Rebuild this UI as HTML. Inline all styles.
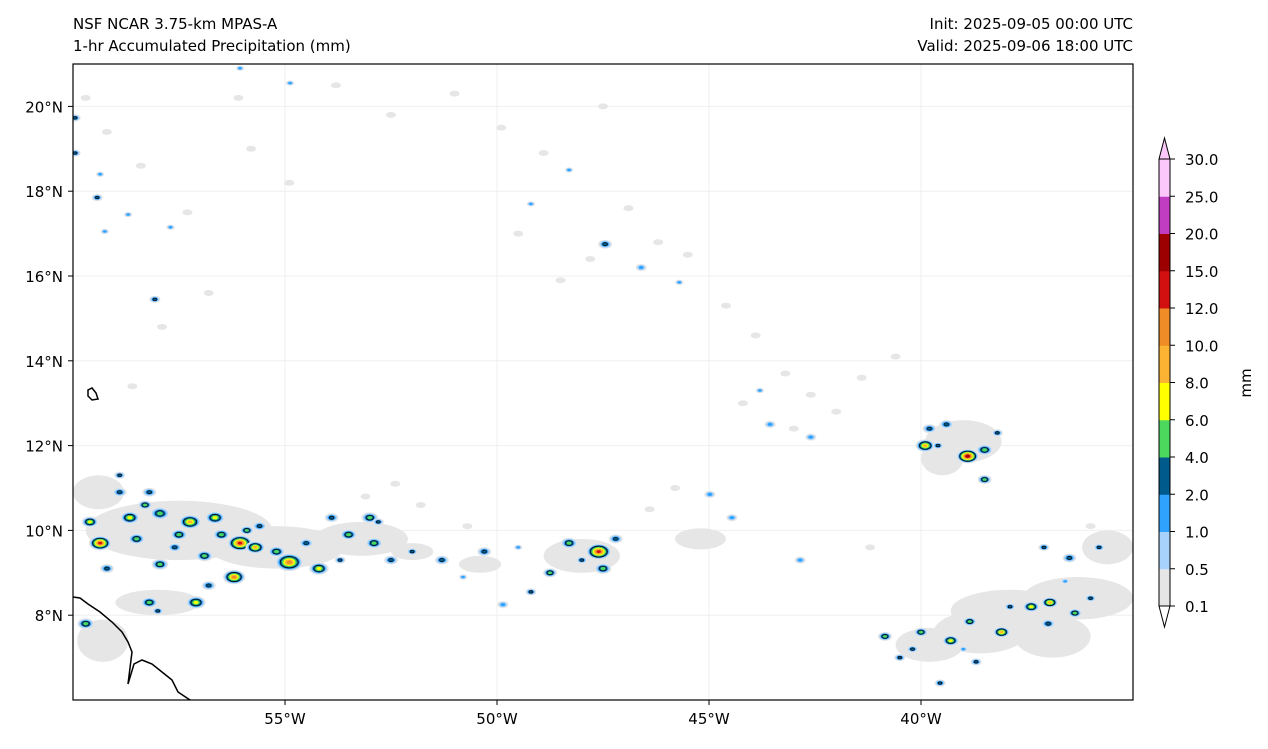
<!DOCTYPE html>
<html><head><meta charset="utf-8"><style>
body{margin:0;background:#fff;font-family:"DejaVu Sans",sans-serif;}
svg text{font-family:"DejaVu Sans",sans-serif;fill:#000;}
</style></head><body>
<svg id="chart" width="1268" height="745" xmlns="http://www.w3.org/2000/svg">
<text x="73" y="29" font-size="15">NSF NCAR 3.75-km MPAS-A</text>
<text x="73" y="51" font-size="15">1-hr Accumulated Precipitation (mm)</text>
<text x="1133" y="29" font-size="15" text-anchor="end">Init: 2025-09-05 00:00 UTC</text>
<text x="1133" y="51" font-size="15" text-anchor="end">Valid: 2025-09-06 18:00 UTC</text>
<defs><clipPath id="mapclip"><rect x="73" y="64" width="1060" height="636"/></clipPath></defs>
<g id="grid"></g>
<g id="marks" clip-path="url(#mapclip)"></g>
<g clip-path="url(#mapclip)">
<path d="M73,597 L80,598 L88,604 L100,612 L112,622 L122,632 L128,642 L132,652 L130,668 L128,684 L134,664 L142,660 L152,664 L162,672 L172,680 L178,692 L190,700 L205,705" fill="none" stroke="#000" stroke-width="1.5"/>
<path d="M88,390 L92,388 L96,393 L98,399 L92,400 L88,396 Z" fill="none" stroke="#000" stroke-width="1.5"/>
</g>
<rect x="73" y="64" width="1060" height="636" fill="none" stroke="#000" stroke-width="1.2"/>
<g id="xaxis"></g>
<g id="yaxis"></g>
<g id="cbar"></g>
<text transform="translate(1251,383) rotate(-90)" font-size="15" text-anchor="middle">mm</text>
</svg>
<script>
const levels=[0.1,0.5,1.0,2.0,4.0,6.0,8.0,10.0,12.0,15.0,20.0,25.0,30.0];
const colors=["#e6e6e6","#a6d2fc","#2ea2fc","#005a8c","#4cd85c","#ffff00","#fcb232","#f08c28","#d21010","#9c0000","#c03cc0","#fcc8fc"];
const lonTicks=[-55,-50,-45,-40];
const latTicks=[8,10,12,14,16,18,20];
const cellLon=[-59.36,-58.66,-57.95,-57.24,-56.65,-56.06,-55.7,-54.9,-54.2,-53.5,-52.9,-56.2,-57.95,-57.1,-58.2,-59.7,-58.9,-58.2,-53.9,-51.3,-50.3,-48.75,-48.3,-47.6,-47.5,-49.2,-49.86,-44.98,-44.46,-42.85,-47.45,-46.6,-42.6,-43.56,-39.8,-39.9,-38.9,-38.5,-38.5,-39.4,-40.85,-40.0,-39.3,-38.85,-38.1,-37.4,-36.96,-36.37,-36.5,-37.1,-40.5,-39.55,-38.7,-35.8,-37.9,-59.43,-58.7,-58.07,-57.7,-59.95,-59.95,-54.88,-56.06,-59.36,-59.25,-49.2,-48.3,-45.7,-43.8,-59.6,-58.5,-57.5,-56.9,-55.2,-53.0,-52.5,-58.9,-55.6,-52.0,-58.3,-57.6,-56.5,-55.9,-54.5,-53.7,-52.8,-59.2,-58.0,-56.8,-48.0,-47.2,-39.6,-38.2,-37.0,-36.0,-40.2,-39.0,-36.6,-50.8,-49.5];
const cellLat=[9.7,10.3,10.4,10.2,10.3,9.7,9.6,9.25,9.1,9.9,9.7,8.9,9.2,8.3,8.3,7.8,10.9,10.9,10.3,9.3,9.5,9.0,9.7,9.5,9.1,8.55,8.25,10.85,10.3,9.3,16.75,16.2,12.2,12.5,12.4,12.0,11.75,11.9,11.2,12.5,7.5,7.6,7.4,7.85,7.6,8.2,8.3,8.05,9.35,9.6,7.0,6.4,6.9,9.6,8.2,17.85,17.45,15.45,17.15,19.73,18.9,20.55,20.9,18.4,17.05,17.7,18.5,15.85,13.3,10.2,9.8,9.9,9.4,9.5,10.3,9.3,11.3,10.1,9.5,10.6,9.6,9.9,10.0,9.7,9.3,10.2,9.1,8.1,8.7,9.3,9.8,12.0,12.3,7.8,8.4,7.2,7.2,8.8,8.9,9.6];
const cellVal=[15,8,6,10,8,15,10,12,8,6,5,12,6,8,5,6,3,3,4,3,4,5,6,15,6,3,2,2,2,2,2.5,1.5,2,1.5,4,10,20,6,5,4,6,5,8,6,10,8,10,6,4,3,4,3,4,3,4,3,2,3,2,3,3,2,1.5,1.5,1.5,1.5,1.5,1.5,1.5,8,6,5,6,5,5,4,3,4,3,5,4,6,5,4,3,3,4,3,4,3,4,3,3,4,3,3,2,2,2,2];
const cellSize=[8,7,7,8,7,9,7,10,7,6,6,8,6,7,6,6,5,5,5,5,5,5,6,9,6,4,4,4,4,4,5,4,4,4,5,7,8,6,5,5,5,5,6,5,6,6,6,5,5,4,4,4,4,4,4,4,3,4,3,4,4,3,3,3,3,3,3,3,3,6,6,6,6,6,6,5,4,5,4,5,5,6,5,5,4,4,5,4,5,4,5,4,4,5,4,4,3,3,3,3];
const grayLon=[-57.5,-55.2,-53.2,-59.4,-37.9,-36.3,-35.6,-39.0,-39.5,-48.0,-45.2,-59.3,-50.4,-52.0,-58.0,-39.8,-38.6,-36.9];
const grayLat=[10.0,9.6,9.8,10.9,8.1,8.4,9.6,12.1,11.7,9.4,9.8,7.4,9.2,9.5,8.3,7.3,7.6,7.5];
const grayRx=[2.2,1.6,1.1,0.6,1.4,1.3,0.6,0.9,0.5,0.9,0.6,0.6,0.5,0.5,1.0,0.8,1.1,0.9];
const grayRy=[0.7,0.5,0.4,0.4,0.5,0.5,0.4,0.5,0.4,0.4,0.25,0.5,0.2,0.2,0.3,0.4,0.5,0.5];
// scattered light-precip flecks
const fleckLon=[-59.7,-59.2,-58.4,-57.3,-56.1,-55.8,-54.9,-53.8,-52.5,-51.0,-49.9,-48.9,-47.5,-46.9,-46.2,-45.5,-44.6,-43.9,-43.2,-42.6,-42.0,-41.4,-40.6,-47.8,-48.5,-49.5,-44.2,-43.0,-45.8,-46.4,-50.7,-51.8,-52.4,-57.9,-56.8,-58.6,-53.1,-41.2,-36.0,-35.4];
const fleckLat=[20.2,19.4,18.6,17.5,20.2,19.0,18.2,20.5,19.8,20.3,19.5,18.9,20.0,17.6,16.8,16.5,15.3,14.6,13.7,13.2,12.8,13.6,14.1,16.4,15.9,17.0,13.0,12.4,11.0,10.5,10.1,10.6,11.1,14.8,15.6,13.4,10.8,9.6,10.1,9.9];
const NS="http://www.w3.org/2000/svg";
const X0=73,X1=1133,Y0=64,Y1=700,LON0=-60,LON1=-35,LAT0=6,LAT1=21;
const xs=lon=>X0+(lon-LON0)/(LON1-LON0)*(X1-X0);
const ys=lat=>Y1-(lat-LAT0)/(LAT1-LAT0)*(Y1-Y0);
const pxDegX=(X1-X0)/(LON1-LON0),pxDegY=(Y1-Y0)/(LAT1-LAT0);
function mk(tag,attrs,parent){const e=document.createElementNS(NS,tag);for(const k in attrs)e.setAttribute(k,attrs[k]);parent.appendChild(e);return e;}
const grid=document.getElementById('grid'),marks=document.getElementById('marks');
const xa=document.getElementById('xaxis'),ya=document.getElementById('yaxis'),cb=document.getElementById('cbar');
lonTicks.forEach(l=>{const x=xs(l);
 const g=mk('line',{x1:x,x2:x,y1:Y0,y2:Y1,stroke:'#efefef','stroke-width':1},grid);
 
 const t=mk('line',{x1:x,x2:x,y1:Y1,y2:Y1+5,stroke:'#000'},xa);
 
 const tx=mk('text',{x:x,y:Y1+24,'font-size':15,'text-anchor':'middle'},xa);tx.textContent=Math.abs(l)+'°W';
 });
latTicks.forEach(l=>{const y=ys(l);
 const g=mk('line',{x1:X0,x2:X1,y1:y,y2:y,stroke:'#efefef','stroke-width':1},grid);
 
 const t=mk('line',{x1:X0-5,x2:X0,y1:y,y2:y,stroke:'#000'},ya);
 
 const tx=mk('text',{x:X0-10,y:y+6,'font-size':15,'text-anchor':'end'},ya);tx.textContent=l+'°N';
 });
grayLon.forEach((lo,i)=>{
 const e=mk('ellipse',{cx:xs(lo),cy:ys(grayLat[i]),rx:grayRx[i]*pxDegX,ry:grayRy[i]*pxDegY,fill:colors[0]},marks);
 });
fleckLon.forEach((lo,i)=>{
 const e=mk('ellipse',{cx:xs(lo),cy:ys(fleckLat[i]),rx:5,ry:3,fill:colors[0]},marks);
 });
cellLon.forEach((lo,i)=>{
 const v=cellVal[i];let n=0;while(n<levels.length-1&&v>levels[n])n++;
 const cx=xs(lo),cy=ys(cellLat[i]),r=cellSize[i];
 for(let k=0;k<n;k++){const f=1-k/(n+0.6);
  const e=mk('ellipse',{cx:cx,cy:cy,rx:r*1.4*f,ry:r*0.9*f,fill:colors[k]},marks);
  if(k===3){e.setAttribute('stroke','#000');e.setAttribute('stroke-width','0.7');}
  }
});
const cbX=1159,cbW=11,cbTop=159,cbBot=606,seg=(cbBot-cbTop)/(levels.length-1);
colors.forEach((c,i)=>{const y=cbBot-(i+1)*seg;
 const r=mk('rect',{x:cbX,y:y,width:cbW,height:seg+0.5,fill:c},cb);
 });
const up=mk('path',{d:`M${cbX},${cbTop} L${cbX+cbW/2},138 L${cbX+cbW},${cbTop} Z`,fill:colors[colors.length-1],stroke:'#000','stroke-width':1},cb);

const dn=mk('path',{d:`M${cbX},${cbBot} L${cbX+cbW/2},627 L${cbX+cbW},${cbBot} Z`,fill:'#fff',stroke:'#000','stroke-width':1},cb);

const ol=mk('path',{d:`M${cbX},${cbTop} L${cbX},${cbBot} M${cbX+cbW},${cbTop} L${cbX+cbW},${cbBot}`,fill:'none',stroke:'#000','stroke-width':1},cb);

levels.forEach((l,i)=>{const y=cbBot-i*seg;
 const t=mk('line',{x1:cbX+cbW,x2:cbX+cbW+5,y1:y,y2:y,stroke:'#000'},cb);
 
 const tx=mk('text',{x:1185,y:y+6,'font-size':15},cb);tx.textContent=l.toFixed(1);
 });
</script>
</body></html>
